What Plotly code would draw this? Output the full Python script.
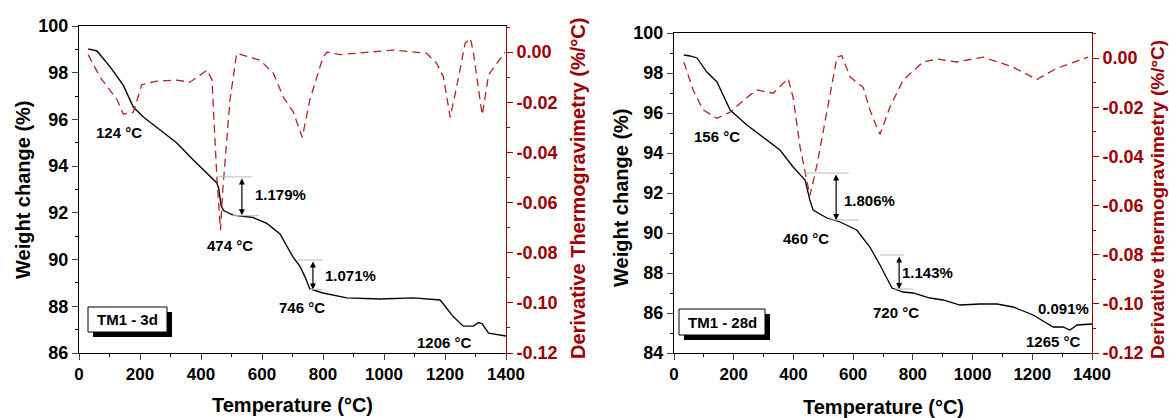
import plotly.graph_objects as go

W, H = 1169, 418
FONT = "Liberation Sans, Arial, sans-serif"
DARKRED = "#A00000"
DASHRED = "#B02424"

# ---------------- data: TM1 - 3d ----------------
t3_temp = [30, 59, 102, 145, 178, 211, 266, 320, 375, 430, 452, 458, 466, 474, 505, 571, 616,
           659, 702, 725, 741, 757, 800, 878, 987, 1096, 1184, 1227, 1260, 1293, 1310, 1322, 1343, 1400]
t3_wt = [99.02, 98.93, 98.25, 97.47, 96.53, 96.1, 95.55, 95.0, 94.26, 93.54, 93.28, 93.05, 92.3, 92.1, 91.9,
         91.8, 91.55, 91.1, 90.1, 89.7, 89.26, 88.74, 88.57, 88.36, 88.31, 88.36, 88.27, 87.56, 87.15,
         87.15, 87.3, 87.25, 86.85, 86.73]
d3_temp = [30, 69, 125, 145, 178, 206, 255, 320, 364, 420, 436, 452, 464, 472, 495, 517, 593, 637,
           670, 703, 732, 757, 800, 813, 856, 1030, 1140, 1173, 1195, 1217, 1238, 1266, 1283, 1293,
           1310, 1322, 1343, 1397]
d3_val = [-0.001, -0.010, -0.019, -0.0247, -0.024, -0.013, -0.0116, -0.0112, -0.012, -0.0072, -0.011,
          -0.050, -0.071, -0.054, -0.019, -0.0005, -0.0032, -0.0084, -0.018, -0.024, -0.034, -0.019,
          -0.002, 0.0, -0.001, 0.0008, -0.0005, -0.0045, -0.010, -0.026, -0.014, 0.0035, 0.0055, 0.0,
          -0.015, -0.025, -0.009, 0.0]

# ---------------- data: TM1 - 28d ----------------
t28_temp = [33, 54, 77, 110, 144, 177, 188, 244, 298, 355, 399, 439, 455, 466, 512, 556, 612, 656, 690,
            730, 767, 801, 857, 901, 958, 1025, 1082, 1136, 1203, 1270, 1303, 1326, 1350, 1400]
t28_wt = [98.9, 98.85, 98.75, 98.05, 97.55, 96.5, 96.15, 95.4, 94.8, 94.15, 93.3, 92.65, 91.65, 91.15,
          90.75, 90.55, 90.15, 89.3, 88.4, 87.25, 87.05, 87.0, 86.75, 86.65, 86.4, 86.45, 86.45, 86.3,
          85.9, 85.3, 85.3, 85.15, 85.4, 85.45]
d28_temp = [33, 64, 97, 144, 188, 244, 278, 332, 382, 399, 422, 439, 455, 478, 512, 546, 562, 590, 634,
            656, 679, 690, 723, 767, 834, 880, 947, 1035, 1136, 1215, 1283, 1387]
d28_val = [-0.0016, -0.013, -0.021, -0.0245, -0.022, -0.016, -0.013, -0.0143, -0.0083, -0.016, -0.036,
           -0.047, -0.056, -0.044, -0.021, 0.0004, 0.001, -0.0077, -0.012, -0.021, -0.028, -0.031, -0.020,
           -0.009, -0.0016, -0.0004, -0.0016, 0.0004, -0.0037, -0.0087, -0.0041, 0.0004]

# ---------------- tick labels ----------------
x_ticks = [0, 200, 400, 600, 800, 1000, 1200, 1400]
wt3_ticks = [86, 88, 90, 92, 94, 96, 98, 100]
wt28_ticks = [84, 86, 88, 90, 92, 94, 96, 98, 100]
dtg_ticks = [-0.12, -0.10, -0.08, -0.06, -0.04, -0.02, 0.00]
dtg_labels = ["-0.12", "-0.10", "-0.08", "-0.06", "-0.04", "-0.02", "0.00"]


def pxx(x):
    return x / W


def pxy(y):
    return 1 - y / H


fig = go.Figure()
fig.add_trace(go.Scatter(x=t3_temp, y=t3_wt, mode="lines", line=dict(color="#150000", width=1.4),
                         xaxis="x", yaxis="y"))
fig.add_trace(go.Scatter(x=d3_temp, y=d3_val, mode="lines",
                         line=dict(color=DASHRED, width=1.3, dash="8px,5px"), xaxis="x", yaxis="y2"))
fig.add_trace(go.Scatter(x=t28_temp, y=t28_wt, mode="lines", line=dict(color="#000000", width=1.3),
                         xaxis="x2", yaxis="y3"))
fig.add_trace(go.Scatter(x=d28_temp, y=d28_val, mode="lines",
                         line=dict(color=DASHRED, width=1.3, dash="8px,5px"), xaxis="x2", yaxis="y4"))

tickfont_k = dict(family=FONT, size=17, color="black", weight="bold")
tickfont_r = dict(family=FONT, size=18, color=DARKRED, weight="bold")

xcommon = dict(range=[0, 1400], tickvals=x_ticks, ticks="outside", ticklen=6, tickwidth=1, automargin=False,
               showline=True, linecolor="black", linewidth=1, mirror=True, showgrid=False, zeroline=False,
               tickfont=tickfont_k, minor=dict(ticks="outside", ticklen=3, dtick=100, tickcolor="black"))
ycommon = dict(ticks="outside", ticklen=6, tickwidth=1, showline=True, linecolor="black", linewidth=1,
               automargin=False, showgrid=False, zeroline=False,
               tickfont=dict(family=FONT, size=18, color="black", weight="bold"),
               minor=dict(ticks="outside", ticklen=3, dtick=1, tickcolor="black"))
rcommon = dict(side="right", ticks="outside", ticklen=6, tickwidth=1, showline=True, linecolor=DARKRED,
               tickcolor=DARKRED, linewidth=1, showgrid=False, zeroline=False, tickfont=tickfont_r,
               tickvals=dtg_ticks, ticktext=dtg_labels, automargin=False,
               minor=dict(ticks="outside", ticklen=3, dtick=0.01, tickcolor=DARKRED))

fig.update_layout(
    width=W, height=H, margin=dict(l=0, r=0, t=0, b=0), paper_bgcolor="white", plot_bgcolor="white",
    showlegend=False,
    xaxis=dict(domain=[pxx(79), pxx(506)], anchor="y", **xcommon),
    yaxis=dict(domain=[pxy(353), pxy(26)], anchor="x", range=[86, 100], tickvals=wt3_ticks, **ycommon),
    yaxis2=dict(overlaying="y", anchor="x", range=[-0.12, 0.0104], **rcommon),
    xaxis2=dict(domain=[pxx(674), pxx(1092)], anchor="y3", **xcommon),
    yaxis3=dict(domain=[pxy(353), pxy(33)], anchor="x2", range=[84, 100], tickvals=wt28_ticks, **ycommon),
    yaxis4=dict(overlaying="y3", anchor="x2", range=[-0.12, 0.0102], **rcommon),
)

ann = []


def ptext(text, x, y, size=20, color="black", angle=0):
    ann.append(dict(text=text, x=pxx(x), y=pxy(y), xref="paper", yref="paper", showarrow=False,
                    textangle=angle, xanchor="center", yanchor="middle",
                    font=dict(family=FONT, size=size, color=color, weight="bold")))


def dtext(text, x, y, xr, yr, size=15):
    ann.append(dict(text=text, x=x, y=y, xref=xr, yref=yr, showarrow=False, xanchor="center",
                    yanchor="middle", font=dict(family=FONT, size=size, color="black", weight="bold")))


def darrow(x, y0, y1, xr, yr):
    ann.append(dict(text="", x=x, y=y1, ax=x, ay=y0, xref=xr, yref=yr, axref=xr, ayref=yr,
                    showarrow=True, arrowhead=2, arrowsize=1, arrowwidth=1.2, arrowcolor="black",
                    arrowside="end+start"))


# axis titles
ptext("Weight change (%)", 23, 190, angle=-90)
ptext("Derivative Thermogravimetry (%/°C)", 578, 189, color=DARKRED, angle=-90)
ptext("Temperature (°C)", 292, 405)
ptext("Weight change (%)", 621, 198, angle=-90)
ptext("Derivative thermogravimetry (%/°C)", 1157, 200, size=19, color=DARKRED, angle=-90)
ptext("Temperature (°C)", 883, 407)

# labels
for t, x, y in [("124 °C", 131, 95.42), ("474 °C", 495, 90.62), ("746 °C", 731, 87.93),
                ("1206 °C", 1197, 86.43), ("1.179%", 662, 92.77), ("1.071%", 889, 89.3)]:
    dtext(t, x, y, "x", "y")
for t, x, y in [("156 °C", 144, 94.85), ("460 °C", 442, 89.75), ("720 °C", 743, 86.05),
                ("1265 °C", 1270, 84.6), ("0.091%", 1306, 86.25), ("1.806%", 656, 91.65),
                ("1.143%", 848, 88.05)]:
    dtext(t, x, y, "x2", "y3")

darrow(534, 93.54, 91.9, "x", "y")
darrow(767, 89.98, 88.72, "x", "y")
darrow(543, 93.0, 90.65, "x2", "y3")
darrow(754, 88.9, 87.2, "x2", "y3")

shapes = []


def gline(x0, x1, y, xr, yr):
    shapes.append(dict(type="line", x0=x0, x1=x1, y0=y, y1=y, xref=xr, yref=yr,
                       line=dict(color="#BBBBBB", width=1)))


gline(449, 567, 93.54, "x", "y")
gline(500, 590, 91.88, "x", "y")
gline(718, 800, 89.98, "x", "y")
gline(757, 800, 88.72, "x", "y")
gline(432, 586, 93.0, "x2", "y3")
gline(522, 620, 90.65, "x2", "y3")
gline(690, 770, 88.9, "x2", "y3")
gline(740, 800, 87.2, "x2", "y3")


def box(x0, y0, x1, y1, text):
    shapes.append(dict(type="rect", xref="paper", yref="paper", x0=pxx(x0 + 5), x1=pxx(x1 + 5),
                       y0=pxy(y0 + 5), y1=pxy(y1 + 5), fillcolor="black", line=dict(width=0)))
    shapes.append(dict(type="rect", xref="paper", yref="paper", x0=pxx(x0), x1=pxx(x1),
                       y0=pxy(y0), y1=pxy(y1), fillcolor="white", line=dict(color="black", width=1)))
    ptext(text, (x0 + x1) / 2, (y0 + y1) / 2, size=15)


box(88, 307, 167, 332, "TM1 - 3d")
box(679, 309, 765, 335, "TM1 - 28d")

fig.update_layout(annotations=ann, shapes=shapes)
# remove the default 8px page margin so the figure fills the 1169x418 window exactly
fig.write_html("out.html", config={"displayModeBar": False},
               post_script="document.body.style.margin='0';document.body.style.overflow='hidden';")
